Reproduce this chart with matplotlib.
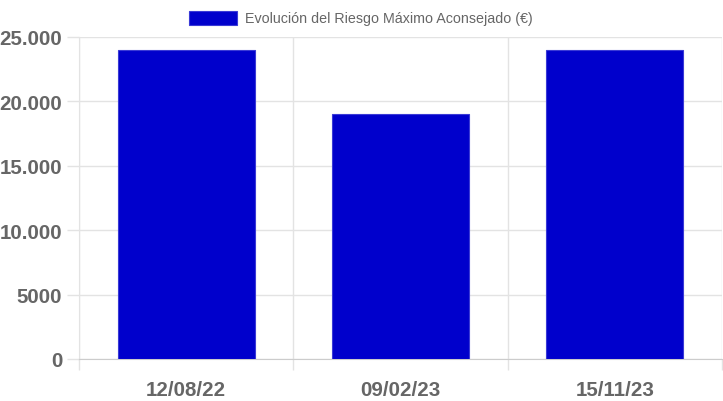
import matplotlib.pyplot as plt
from matplotlib.patches import Rectangle

fechas = ['12/08/22', '09/02/23', '15/11/23']
riesgo = [24000, 19000, 24000]
yticks = [0, 5000, 10000, 15000, 20000, 25000]
ytick_labels = ['0', '5000', '10.000', '15.000', '20.000', '25.000']
leyenda = 'Evolución del Riesgo Máximo Aconsejado (€)'

plt.rcParams['font.family'] = ['Liberation Sans', 'DejaVu Sans']

W, H = 723, 402
fig = plt.figure(figsize=(W / 100, H / 100), dpi=100)
ax = fig.add_axes([79 / W, 42 / H, 643 / W, 322 / H])

x = range(len(fechas))
ax.bar(x, riesgo, width=0.64, color='#0000cc', edgecolor='#3a3ad6', linewidth=0.8, zorder=3)

ax.set_xlim(-0.5, len(fechas) - 0.5)
ax.set_ylim(0, 25000)
ax.set_yticks(yticks)
ax.set_yticklabels(ytick_labels)
ax.set_xticks(x)
ax.set_xticklabels(fechas)
ax.set_xticks([i - 0.5 for i in range(len(fechas) + 1)], minor=True)

grid = '#e3e3e3'
ax.grid(axis='y', color=grid, linewidth=1, zorder=0)
ax.grid(axis='x', which='minor', color=grid, linewidth=1, zorder=0)
ax.tick_params(axis='y', length=9, width=1, color=grid, pad=3,
               labelsize=14.8, labelcolor='#666666')
ax.tick_params(axis='x', which='major', length=0, pad=15,
               labelsize=14.8, labelcolor='#666666')
ax.tick_params(axis='x', which='minor', length=8, width=1, color=grid)
for lbl in ax.get_xticklabels() + ax.get_yticklabels():
    lbl.set_fontweight('bold')

for side in ['top', 'right']:
    ax.spines[side].set_visible(False)
ax.spines['left'].set_color(grid)
ax.spines['bottom'].set_color('#cccccc')

# leyenda estilo chart.js
fig.patches.append(Rectangle((189 / W, (H - 26) / H), 48 / W, 14 / H,
                             transform=fig.transFigure, facecolor='#0000cc',
                             edgecolor='#3a3ad6', linewidth=0.8))
fig.text(245 / W, (H - 19) / H, leyenda, fontsize=10.3, color='#666666', va='center')

fig.savefig('out.png', dpi=100)
